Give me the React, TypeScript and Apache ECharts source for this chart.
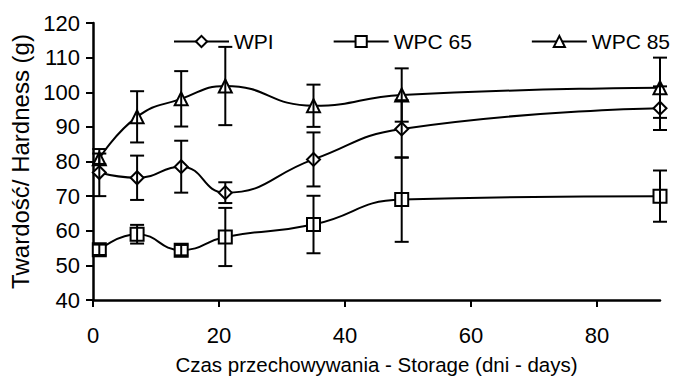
import React, { useEffect, useRef } from "react";
import * as echarts from "echarts";

const days = [1, 7, 14, 21, 35, 49, 90];
const wpi = [76.8, 75.3, 78.5, 71.0, 80.6, 89.4, 95.4];
const wpiErr = [6.8, 6.4, 7.5, 3.0, 7.8, 8.3, 6.3];
const wpc65 = [54.5, 59.0, 54.4, 58.2, 61.8, 69.0, 70.0];
const wpc65Err = [1.5, 2.7, 1.5, 8.4, 8.3, 12.2, 7.4];
const wpc85 = [80.8, 92.9, 98.1, 101.8, 96.1, 99.2, 101.3];
const wpc85Err = [1.5, 7.4, 8.0, 11.3, 6.1, 7.7, 8.7];
const xTicks = [0, 20, 40, 60, 80];

const FONT = "'Liberation Sans', Arial, sans-serif";

export default function App() {
  const ref = useRef<HTMLDivElement>(null);
  useEffect(() => {
    document.body.style.margin = "0";
    if (!ref.current) return;
    const chart = echarts.init(ref.current, undefined, { renderer: "svg" });
    const pts = (ys: number[]) => days.map((d, i) => [d, ys[i]]);
    const errData = (ys: number[], es: number[]) =>
      days.map((d, i) => [d, ys[i] - es[i], ys[i] + es[i]]);
    const errSeries = (ys: number[], es: number[]) => ({
      type: "custom",
      z: 5,
      silent: true,
      clip: false,
      data: errData(ys, es),
      encode: { x: 0, y: [1, 2] },
      renderItem: (params: any, api: any) => {
        const x = api.value(0);
        const lo = api.coord([x, api.value(1)]);
        const hi = api.coord([x, api.value(2)]);
        const w = 7;
        const style = { stroke: "#000", lineWidth: 2 };
        return {
          type: "group",
          children: [
            { type: "line", shape: { x1: lo[0], y1: lo[1], x2: hi[0], y2: hi[1] }, style },
            { type: "line", shape: { x1: lo[0] - w, y1: lo[1], x2: lo[0] + w, y2: lo[1] }, style },
            { type: "line", shape: { x1: hi[0] - w, y1: hi[1], x2: hi[0] + w, y2: hi[1] }, style },
          ],
        };
      },
    });
    const lineSeries = (name: string, ys: number[], symbol: string, size: number) => ({
      name,
      type: "line",
      data: pts(ys),
      smooth: 0.5,
      clip: false,
      symbol,
      symbolSize: size,
      showAllSymbol: true,
      lineStyle: { color: "#000", width: 2 },
      itemStyle: { color: "#fff", borderColor: "#000", borderWidth: 2 },
      z: 3,
    });
    chart.setOption({
      animation: false,
      backgroundColor: "#fff",
      textStyle: { fontFamily: FONT, color: "#000" },
      grid: { left: 93, right: 13, top: 23, bottom: 91, containLabel: false },
      legend: {
        data: ["WPI", "WPC 65", "WPC 85"],
        left: 173,
        top: 31,
        padding: 0,
        width: 500,
        itemWidth: 55,
        itemHeight: 14,
        itemGap: 59,
        textStyle: { fontFamily: FONT, fontSize: 21, color: "#000" },
      },
      xAxis: {
        type: "value",
        min: 0,
        max: 90,
        interval: 20,
        name: "Czas przechowywania - Storage (dni - days)",
        nameLocation: "middle",
        nameGap: 54,
        nameTextStyle: { fontFamily: FONT, fontSize: 20.5, color: "#000" },
        axisLine: { lineStyle: { color: "#000", width: 2.5 } },
        axisTick: { show: true, length: 7, lineStyle: { color: "#000", width: 2 }, customValues: xTicks },
        axisLabel: { fontSize: 22, color: "#000", margin: 24, customValues: xTicks, fontFamily: FONT },
        splitLine: { show: false },
      },
      yAxis: {
        type: "value",
        min: 40,
        max: 120,
        interval: 10,
        name: "Twardość/ Hardness (g)",
        nameLocation: "middle",
        nameGap: 57,
        nameTextStyle: { fontFamily: FONT, fontSize: 24, color: "#000" },
        axisLine: { show: true, lineStyle: { color: "#000", width: 2.5 } },
        axisTick: { show: true, length: 7, lineStyle: { color: "#000", width: 2 } },
        axisLabel: { fontSize: 22, color: "#000", margin: 13, fontFamily: FONT },
        splitLine: { show: false },
      },
      series: [
        lineSeries("WPI", wpi, "diamond", 13),
        lineSeries("WPC 65", wpc65, "rect", 13),
        lineSeries("WPC 85", wpc85, "triangle", 13),
        errSeries(wpi, wpiErr),
        errSeries(wpc65, wpc65Err),
        errSeries(wpc85, wpc85Err),
      ],
    });
    return () => chart.dispose();
  }, []);
  return <div ref={ref} style={{ width: 673, height: 391 }} />;
}
